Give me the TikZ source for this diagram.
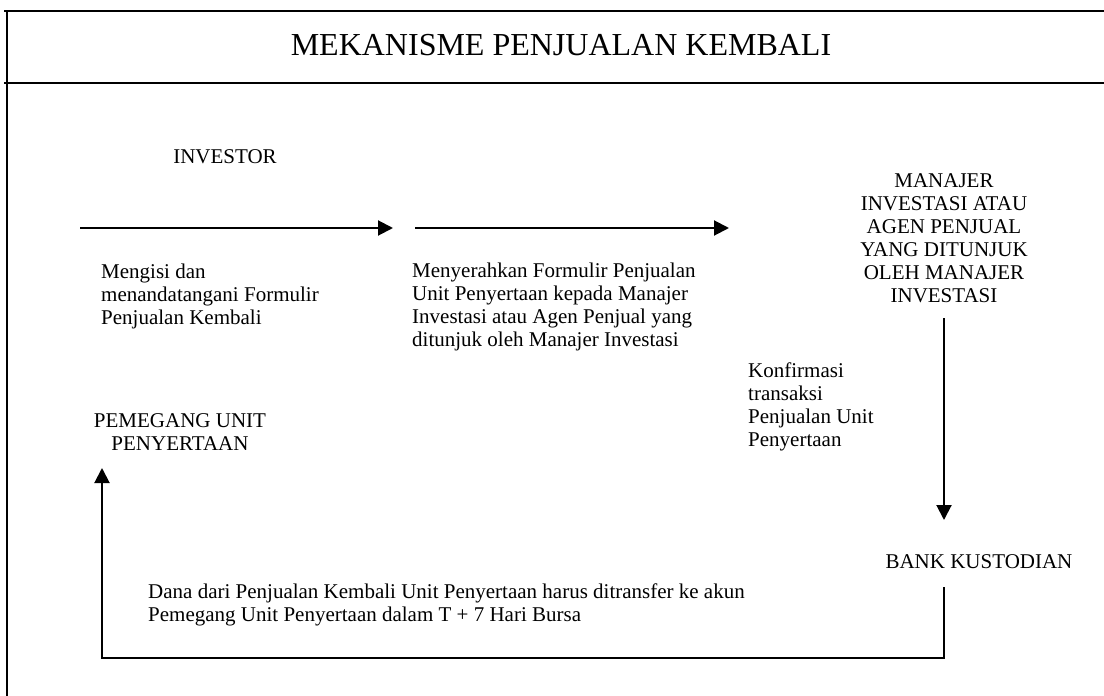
\documentclass[tikz,border=0pt]{standalone}
\usepackage{fontspec}
\setmainfont{Liberation Serif}
\usetikzlibrary{arrows.meta}
\begin{document}
\begin{tikzpicture}[x=1pt,y=-1pt,
  line/.style={line width=2pt},
  arr/.style={line width=2pt,-{Triangle[length=15pt,width=15pt]}},
  txt/.style={inner sep=0pt,font=\fontsize{21}{23}\selectfont},
]
\useasboundingbox (0,0) rectangle (1104,696);
% frame
\draw[line] (4,11) -- (1104,11);
\draw[line] (4,83) -- (1104,83);
\draw[line] (7,11) -- (7,696);
\node[inner sep=0pt,font=\fontsize{32}{36}\selectfont] (title) at (561,45) {MEKANISME PENJUALAN KEMBALI};
% nodes
\node[txt] (investor) at (225,157) {INVESTOR};
\node[txt,align=center] (mi) at (944,238) {MANAJER\\INVESTASI ATAU\\AGEN PENJUAL\\YANG DITUNJUK\\OLEH MANAJER\\INVESTASI};
\node[txt] (bank) at (979,562) {BANK KUSTODIAN};
\node[txt,align=center] (pemegang) at (180,432) {PEMEGANG UNIT\\PENYERTAAN};
% labels
\node[txt,align=left,anchor=west] (lmengisi) at (101,296) {Mengisi dan\\menandatangani Formulir\\Penjualan Kembali};
\node[txt,align=left,anchor=west] (lmenyerahkan) at (412,307) {Menyerahkan Formulir Penjualan\\Unit Penyertaan kepada Manajer\\Investasi atau Agen Penjual yang\\ditunjuk oleh Manajer Investasi};
\node[txt,align=left,anchor=west] (lkonfirmasi) at (748,407) {Konfirmasi\\transaksi\\Penjualan Unit\\Penyertaan};
\node[txt,align=left,anchor=west] (ldana) at (148,605) {Dana dari Penjualan Kembali Unit Penyertaan harus ditransfer ke akun\\Pemegang Unit Penyertaan dalam T + 7 Hari Bursa};
% connectors
\coordinate (a1s) at (80,228);
\coordinate (a1e) at (393,228);
\coordinate (a2s) at (415,228);
\coordinate (a2e) at (729,228);
\draw[arr] (a1s) -- (a1e);
\draw[arr] (a2s) -- (a2e);
\coordinate (vs) at (944,318);
\coordinate (ve) at (944,520);
\draw[arr] (vs) -- (ve);
\coordinate (rs) at (944,587);
\coordinate (rc) at (944,658);
\coordinate (re) at (102,468);
\draw[arr] (rs) -- (rc) -| (re);
\end{tikzpicture}
\end{document}
